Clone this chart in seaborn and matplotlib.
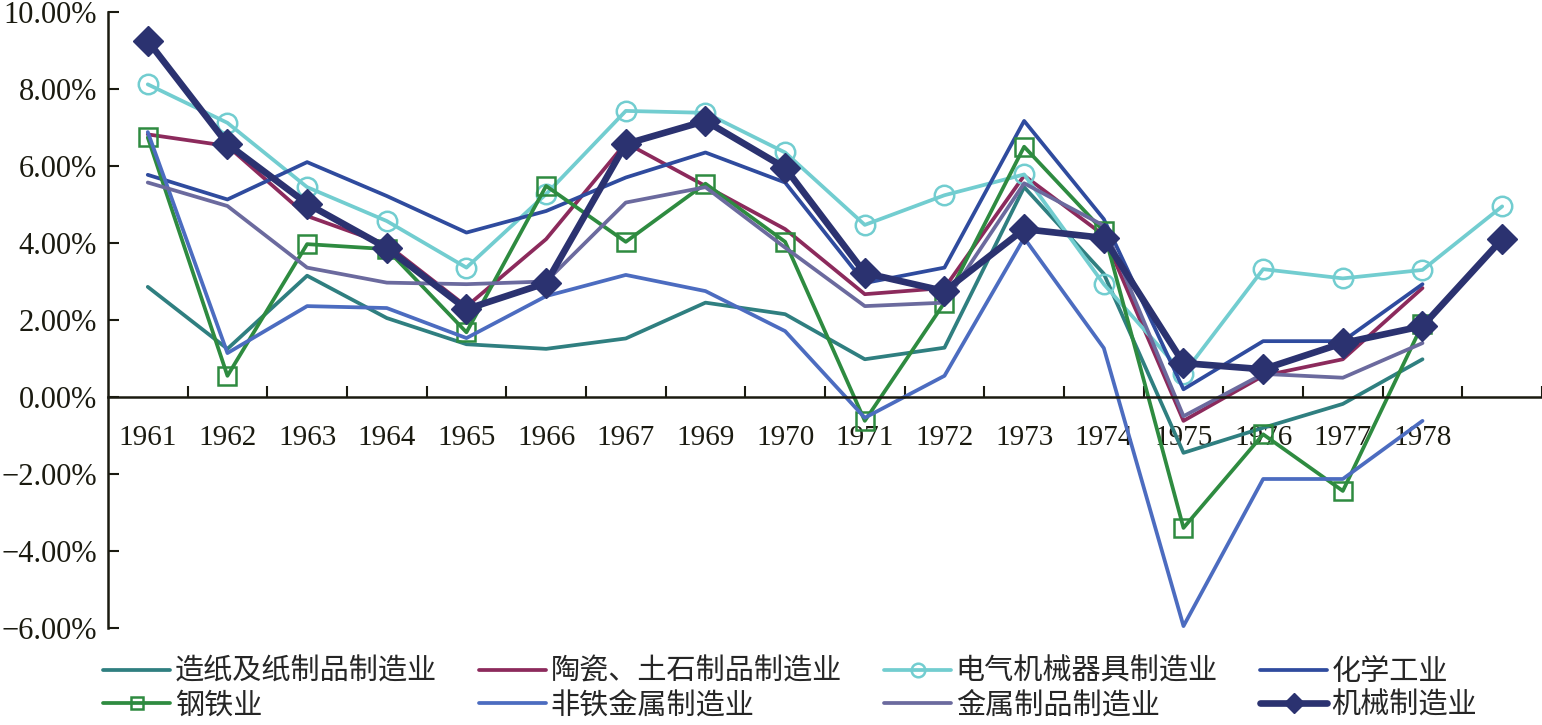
import numpy as np
import pandas as pd
import matplotlib
matplotlib.use("Agg")
import matplotlib.pyplot as plt
import seaborn as sns
from matplotlib.ticker import FixedLocator, FuncFormatter

# category labels (last position has no label)
years = ["1961", "1962", "1963", "1964", "1965", "1966", "1967", "1969", "1970",
         "1971", "1972", "1973", "1974", "1975", "1976", "1977", "1978", ""]

# growth rates in %
paper = [2.86, 1.25, 3.15, 2.05, 1.37, 1.25, 1.52, 2.45, 2.15, 0.98, 1.28, 5.45,
         3.2, -1.45, -0.8, -0.18, 0.98, np.nan]
ceramic = [6.82, 6.52, 4.7, 3.96, 2.35, 4.1, 6.6, 5.48, 4.36, 2.67, 2.83, 5.75,
           4.2, -0.62, 0.55, 0.98, 2.83, np.nan]
electric = [8.12, 7.12, 5.45, 4.57, 3.36, 5.27, 7.43, 7.38, 6.35, 4.47, 5.24, 5.78,
            2.93, 0.6, 3.32, 3.08, 3.3, 4.95]
chemical = [5.77, 5.13, 6.1, 5.22, 4.27, 4.83, 5.7, 6.35, 5.57, 2.96, 3.36, 7.17,
            4.62, 0.2, 1.45, 1.45, 2.93, np.nan]
steel = [6.74, 0.55, 3.97, 3.84, 1.68, 5.48, 4.03, 5.54, 4.03, -0.62, 2.45, 6.5,
         4.3, -3.4, -0.97, -2.44, 1.89, np.nan]
nonferrous = [6.88, 1.14, 2.36, 2.31, 1.53, 2.62, 3.17, 2.75, 1.71, -0.54, 0.55, 4.13,
              1.27, -5.95, -2.13, -2.13, -0.62, np.nan]
metal_goods = [5.57, 4.96, 3.36, 2.97, 2.93, 3.0, 5.05, 5.45, 3.88, 2.36, 2.45, 5.55,
               4.45, -0.5, 0.6, 0.5, 1.4, np.nan]
machinery = [9.25, 6.57, 5.02, 3.87, 2.28, 2.96, 6.57, 7.17, 5.95, 3.22, 2.75, 4.36,
             4.13, 0.88, 0.72, 1.4, 1.84, 4.1]

names = ["造纸及纸制品制造业", "陶瓷、土石制品制造业", "电气机械器具制造业", "化学工业",
         "钢铁业", "非铁金属制造业", "金属制品制造业", "机械制造业"]
series = [paper, ceramic, electric, chemical, steel, nonferrous, metal_goods, machinery]
colors = ["#2f7f80", "#8c2a5c", "#72cdd0", "#2f4b9e",
          "#2e8b40", "#4c6cc0", "#6b6a9e", "#2b3270"]
# (linewidth, marker, markersize, filled)
styles = [(2.7, None, 0, False), (2.7, None, 0, False), (2.7, "o", 14, False),
          (2.7, None, 0, False), (2.7, "s", 13, False), (2.7, None, 0, False),
          (2.7, None, 0, False), (4.8, "D", 15, True)]

sns.set_theme(style="white")
plt.rcParams['font.family'] = ['Liberation Serif', 'DejaVu Serif']

fig = plt.figure(figsize=(15.42, 7.25), dpi=100)
ax = fig.add_axes([0.070, 0.1338, 0.930, 0.8497])

x = np.arange(len(years))
for name, vals, c, (lw, mk, ms, filled) in zip(names, series, colors, styles):
    df = pd.DataFrame({"x": x, "y": vals}).dropna()
    kw = dict(linewidth=lw)
    if mk:
        kw.update(marker=mk, markersize=ms, markeredgecolor=c,
                  markerfacecolor=c if filled else "none",
                  markeredgewidth=1.0 if filled else 1.8)
    sns.lineplot(data=df, x="x", y="y", ax=ax, color=c, label=name, **kw)

ax.set_xlim(-0.5, len(years) - 0.5)
ax.set_ylim(-6, 10)
ax.set_xlabel("")
ax.set_ylabel("")

for s in ["top", "right"]:
    ax.spines[s].set_visible(False)
ax.spines["bottom"].set_position(("data", 0))
for s in ["left", "bottom"]:
    ax.spines[s].set_color("#1a1a10")
    ax.spines[s].set_linewidth(1.8)

ax.xaxis.set_major_locator(FixedLocator(x))
ax.set_xticklabels(years)
ax.xaxis.set_minor_locator(FixedLocator(x + 0.5))
ax.tick_params(axis="x", which="major", length=0, pad=20, labelsize=21, colors="#1a1a10")
ax.tick_params(axis="x", which="minor", direction="in", length=8, width=1.5,
               color="#1a1a10", bottom=True)
ax.set_yticks(np.arange(-6, 11, 2))
ax.yaxis.set_major_formatter(FuncFormatter(lambda v, p: f"{v:.2f}%".replace("-", "−")))
ax.tick_params(axis="y", direction="in", length=8, width=1.5, pad=8, labelsize=22,
               colors="#1a1a10", left=True)

h, l = ax.get_legend_handles_labels()
if ax.get_legend():
    ax.get_legend().remove()
order = [0, 4, 1, 5, 2, 6, 3, 7]
fig.legend([h[i] for i in order], [l[i] for i in order], ncol=4,
           loc="upper left", bbox_to_anchor=(0.067, 0.094), frameon=False,
           prop={"family": ["Noto Sans CJK SC", "DejaVu Sans"], "size": 21},
           handlelength=2.3, handletextpad=0.15, columnspacing=1.45,
           labelspacing=0.12, borderpad=0, borderaxespad=0, markerscale=0.7)

fig.savefig("out.png", dpi=100)
